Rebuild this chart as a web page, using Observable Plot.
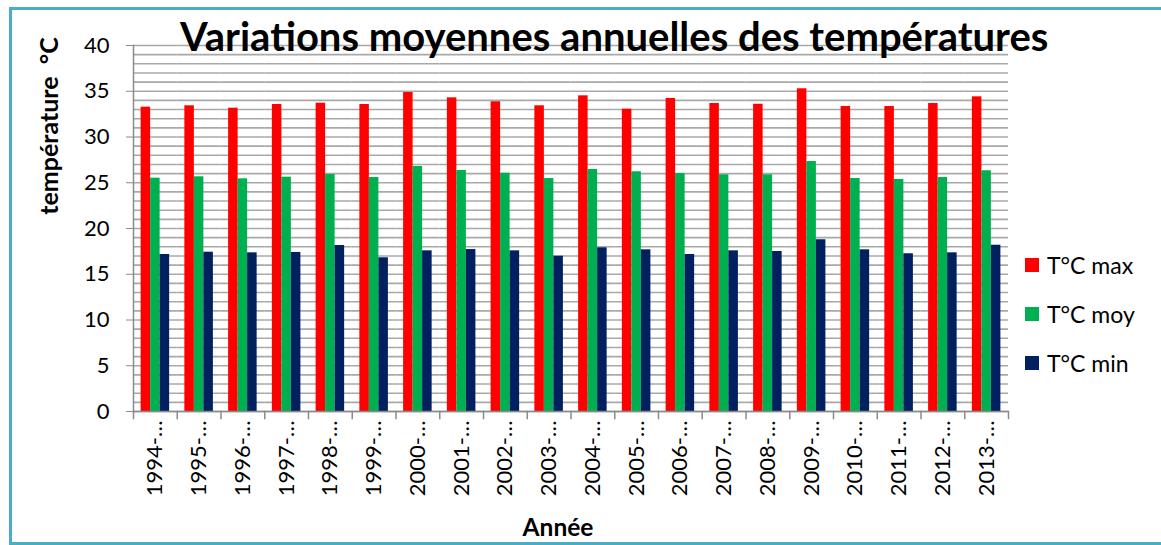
<!DOCTYPE html>
<html>
<head>
<meta charset="utf-8">
<script src="https://cdn.jsdelivr.net/npm/d3@7"></script>
<script src="https://cdn.jsdelivr.net/npm/@observablehq/plot@0.6"></script>
<style>
  html, body { margin: 0; padding: 0; background: #fff; overflow: hidden; width: 1161px; height: 545px; }
  #wrap { position: relative; width: 1161px; height: 545px; font-family: Lato, "Open Sans", sans-serif; color: #000; }
  #border { position: absolute; left: 9px; top: 7px; width: 1200px; height: 538px; border: 3px solid #4BACC6; box-sizing: border-box; }
  #chart { position: absolute; left: 0; top: 0; }
  #title { position: absolute; left: 180px; top: 12px; font-weight: 700; font-size: 40px; line-height: 48px; white-space: nowrap; }
  #ylab { position: absolute; left: 48px; top: 126px; transform: translate(-50%, -50%) rotate(-90deg); font-weight: 700; font-size: 25px; white-space: pre; }
  #xlab { position: absolute; left: 558px; top: 526px; transform: translate(-50%, -50%); font-weight: 700; font-size: 24.5px; white-space: nowrap; }
  #legend { position: absolute; left: 1025px; top: 0; }
  .item { position: absolute; left: 0; display: flex; align-items: center; transform: translateY(-50%); font-size: 23px; white-space: nowrap; }
  .sw { width: 14px; height: 14px; margin-right: 8px; }
</style>
</head>
<body>
<div id="wrap">
  <div id="border"></div>
  <div id="chart"></div>
  <div id="title">Variations moyennes annuelles des températures</div>
  <div id="ylab">température  °C</div>
  <div id="xlab">Année</div>
  <div id="legend"></div>
</div>
<script>
const years = ["1994-…","1995-…","1996-…","1997-…","1998-…","1999-…","2000-…","2001-…","2002-…","2003-…",
               "2004-…","2005-…","2006-…","2007-…","2008-…","2009-…","2010-…","2011-…","2012-…","2013-…"];
const tMax = [33.26,33.41,33.15,33.55,33.69,33.55,34.86,34.28,33.85,33.41,34.50,33.04,34.21,33.66,33.58,35.27,33.33,33.33,33.66,34.39];
const tMoy = [25.50,25.65,25.43,25.61,25.90,25.57,26.78,26.34,26.04,25.46,26.45,26.20,26.01,25.87,25.87,27.32,25.46,25.36,25.57,26.31];
const tMin = [17.16,17.41,17.34,17.38,18.14,16.80,17.56,17.70,17.56,16.97,17.89,17.67,17.16,17.56,17.49,18.77,17.67,17.24,17.34,18.17];
const series = ["T°C max","T°C moy","T°C min"];
const colors = ["#FF0000","#00B050","#002060"];
const yTicks = [0,5,10,15,20,25,30,35,40];
const yMinor = d3.range(0, 41, 1);

const values = [tMax, tMoy, tMin];
const data = years.flatMap((y, i) => series.map((s, k) => ({year: y, series: s, value: values[k][i]})));

const H = 545, MT = 45, MB = 134;
const plotH = H - MT - MB;

const chart = Plot.plot({
  width: 1161,
  height: H,
  marginLeft: 133,
  marginRight: 153,
  marginTop: MT,
  marginBottom: MB,
  style: {fontFamily: "Lato, 'Open Sans', sans-serif", fontSize: "22px", background: "transparent", color: "#000"},
  fx: {domain: years, padding: 0, round: false, label: null},
  x: {domain: series, paddingInner: 0, paddingOuter: 0.8, round: false, axis: null},
  y: {domain: [0, 40], label: null},
  color: {domain: series, range: colors},
  marks: [
    Plot.gridY(yMinor, {stroke: "#a8a8a8", strokeOpacity: 1, strokeWidth: 1.6}),
    Plot.barY(data, {fx: "year", x: "series", y: "value", fill: "series"}),
    Plot.ruleY([0], {stroke: "#8a8a8a", strokeWidth: 1.5}),
    Plot.frame({anchor: "left", facetAnchor: "left", stroke: "#8a8a8a", strokeWidth: 1.5}),
    Plot.frame({anchor: "left", insetTop: plotH, insetBottom: -7, stroke: "#8a8a8a", strokeWidth: 1.5}),
    Plot.frame({anchor: "right", facetAnchor: "right", insetTop: plotH, insetBottom: -7, stroke: "#8a8a8a", strokeWidth: 1.5}),
    Plot.axisY(yTicks, {tickSize: 7, tickPadding: 17, stroke: "#8a8a8a", fontSize: 22, label: null}),
    Plot.axisFx({anchor: "bottom", tickSize: 0, tickRotate: -90, tickPadding: 9, fontSize: 22, label: null})
  ]
});
document.getElementById("chart").appendChild(chart);

const legend = document.getElementById("legend");
const rowsY = [265, 314, 363];
series.forEach((s, k) => {
  const it = document.createElement("div");
  it.className = "item";
  it.style.top = rowsY[k] + "px";
  const sw = document.createElement("span");
  sw.className = "sw";
  sw.style.background = colors[k];
  const tx = document.createElement("span");
  tx.textContent = s;
  it.appendChild(sw); it.appendChild(tx);
  legend.appendChild(it);
});
</script>
</body>
</html>
